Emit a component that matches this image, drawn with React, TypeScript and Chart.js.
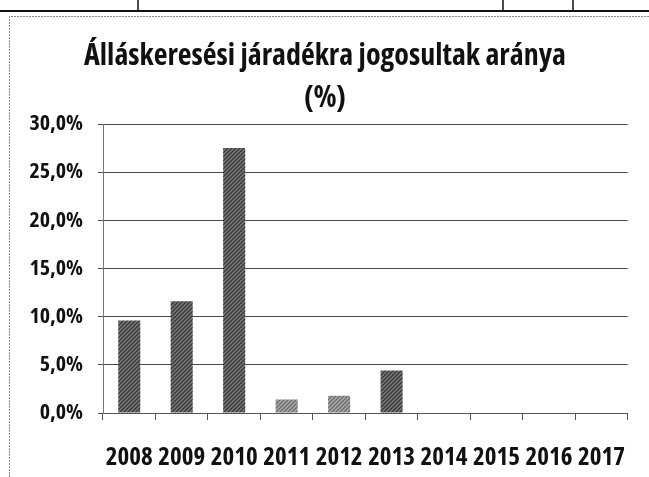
import React, { useEffect, useRef } from 'react';
import { Chart, registerables } from 'chart.js';

Chart.register(...registerables);

const categories = ['2008', '2009', '2010', '2011', '2012', '2013', '2014', '2015', '2016', '2017'];
const rates = [9.6, 11.6, 27.5, 1.4, 1.8, 4.4, null, null, null, null];
const lighterBars = [false, false, false, true, true, false, false, false, false, false];
const titleLines = ['Álláskeresési járadékra jogosultak aránya', '(%)'];
const yMin = 0;
const yMax = 30;
const yStep = 5;

const FONT = "'Open Sans', Roboto, sans-serif";
const WEIGHT = 'bold condensed';

function makePattern(base: string, line: string): CanvasPattern | string {
  const c = document.createElement('canvas');
  c.width = 4;
  c.height = 4;
  const g = c.getContext('2d');
  if (!g) return base;
  g.fillStyle = base;
  g.fillRect(0, 0, 4, 4);
  g.strokeStyle = line;
  g.lineWidth = 1.2;
  g.beginPath();
  g.moveTo(0, 4);
  g.lineTo(4, 0);
  g.moveTo(-1, 1);
  g.lineTo(1, -1);
  g.moveTo(3, 5);
  g.lineTo(5, 3);
  g.stroke();
  return g.createPattern(c, 'repeat') || base;
}

const stretchPlugin = {
  id: 'condensedText',
  beforeLayout(chart: any) {
    (chart.ctx as any).fontStretch = 'condensed';
  },
  beforeDraw(chart: any) {
    (chart.ctx as any).fontStretch = 'condensed';
  },
};

const framePlugin = {
  id: 'scanFrame',
  beforeDraw(chart: any) {
    const ctx = chart.ctx as CanvasRenderingContext2D;
    const w = chart.width;
    const h = chart.height;
    ctx.save();
    ctx.fillStyle = '#ffffff';
    ctx.fillRect(0, 0, w, h);
    ctx.strokeStyle = '#111';
    ctx.lineWidth = 2;
    ctx.beginPath();
    ctx.moveTo(0, 11);
    ctx.lineTo(w, 11);
    ctx.stroke();
    ctx.lineWidth = 1.5;
    ctx.beginPath();
    [138, 503, 573].forEach((x) => {
      ctx.moveTo(x, 0);
      ctx.lineTo(x, 11);
    });
    ctx.stroke();
    ctx.strokeStyle = '#8a8a8a';
    ctx.lineWidth = 1;
    ctx.setLineDash([2, 1]);
    ctx.beginPath();
    ctx.moveTo(9.5, h);
    ctx.lineTo(9.5, 16.5);
    ctx.lineTo(w, 16.5);
    ctx.stroke();
    ctx.restore();
  },
};

export default function App() {
  const ref = useRef<HTMLCanvasElement | null>(null);

  useEffect(() => {
    if (!ref.current) return;
    const dark = makePattern('#767676', '#303030');
    const light = makePattern('#a6a6a6', '#666666');
    const colors = lighterBars.map((l) => (l ? light : dark));

    const chart = new Chart(ref.current, {
      type: 'bar',
      data: {
        labels: categories,
        datasets: [
          {
            data: rates as any,
            backgroundColor: colors as any,
            borderWidth: 0,
            categoryPercentage: 1,
            barPercentage: 0.42,
          },
        ],
      },
      options: {
        responsive: false,
        animation: false,
        layout: { padding: { left: 22, right: 21, top: 0, bottom: 4 } },
        plugins: {
          legend: { display: false },
          tooltip: { enabled: false },
          title: {
            display: true,
            text: titleLines,
            color: '#111',
            font: { family: FONT, size: 30, weight: WEIGHT as any, lineHeight: 1.4 },
            padding: { top: 35, bottom: 5 },
          },
        },
        scales: {
          x: {
            offset: true,
            grid: {
              offset: true,
              drawOnChartArea: false,
              drawTicks: true,
              tickLength: 7,
              color: '#555',
            },
            border: { display: true, color: '#555' },
            ticks: {
              color: '#111',
              font: { family: FONT, size: 25, weight: WEIGHT as any },
              padding: 23,
              maxRotation: 0,
              autoSkip: false,
            },
            afterFit(scale: any) {
              scale.height = 60;
            },
          },
          y: {
            min: yMin,
            max: yMax,
            grid: { color: '#4a4a4a', tickLength: 5 },
            border: { display: true, color: '#777' },
            ticks: {
              stepSize: yStep,
              color: '#111',
              font: { family: FONT, size: 22, weight: WEIGHT as any },
              padding: 15,
              callback: (v: any) => Number(v).toFixed(1).replace('.', ',') + '%',
            },
            afterFit(scale: any) {
              scale.width = 81;
            },
          },
        },
      },
      plugins: [stretchPlugin, framePlugin],
    });
    return () => chart.destroy();
  }, []);

  return (
    <div style={{ position: 'fixed', left: 0, top: 0, width: 649, height: 477, background: '#fff' }}>
      <canvas ref={ref} width={649} height={477} style={{ display: 'block' }} />
    </div>
  );
}
